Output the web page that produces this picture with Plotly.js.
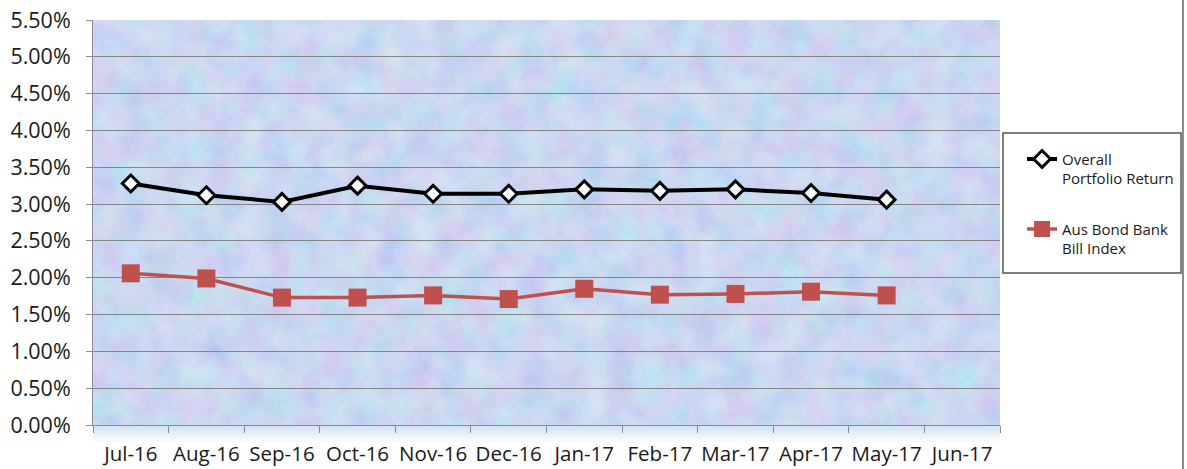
<!DOCTYPE html>
<html>
<head>
<meta charset="utf-8">
<script src="https://cdn.plot.ly/plotly-3.0.1.min.js"></script>
<style>html,body{margin:0;padding:0;background:#fff;}#chart{width:1187px;height:469px;}</style>
</head>
<body>
<div id="chart"></div>
<script>
// ---- data ----
var months = ['Jul-16','Aug-16','Sep-16','Oct-16','Nov-16','Dec-16','Jan-17','Feb-17','Mar-17','Apr-17','May-17','Jun-17'];
var portfolioReturn = [3.28, 3.12, 3.03, 3.25, 3.14, 3.14, 3.20, 3.18, 3.20, 3.15, 3.06];
var bankBillIndex = [2.06, 1.99, 1.73, 1.73, 1.76, 1.71, 1.85, 1.77, 1.78, 1.81, 1.76];
var seriesNames = ['Overall<br>Portfolio Return', 'Aus Bond Bank<br>Bill Index'];
var yTicks = [0, 0.5, 1, 1.5, 2, 2.5, 3, 3.5, 4, 4.5, 5, 5.5];
var yTickText = yTicks.map(function (v) { return v.toFixed(2) + '%'; });

// ---- decorative background texture (deterministic SVG noise) ----
var texSvg = "<svg xmlns='http://www.w3.org/2000/svg' width='907' height='405' viewBox='0 0 907 405'>" +
  "<filter id='n' x='0' y='0' width='100%' height='100%'><feTurbulence type='fractalNoise' baseFrequency='0.035' numOctaves='4' seed='7'/>" +
  "<feColorMatrix type='matrix' values='1.1 0 0 0 0.22  0 0.8 0 0 0.36  0 0 0.3 0 0.72  0 0 0 0 0.40'/></filter>" +
  "<rect width='907' height='405' fill='#b9d0f1'/>" +
  "<rect width='907' height='405' filter='url(#n)'/></svg>";
var gradSvg = "<svg xmlns='http://www.w3.org/2000/svg' width='907' height='20' viewBox='0 0 907 20'>" +
  "<defs><linearGradient id='g' x1='0' y1='0' x2='0' y2='1'><stop offset='0' stop-color='#cfe1f0'/><stop offset='1' stop-color='#ffffff'/></linearGradient></defs>" +
  "<rect width='907' height='20' fill='url(#g)'/></svg>";
function svgUrl(s){ return 'data:image/svg+xml;charset=utf-8,' + encodeURIComponent(s); }

var traces = [
  {
    x: months.slice(0, portfolioReturn.length),
    y: portfolioReturn,
    name: seriesNames[0],
    type: 'scatter', mode: 'lines+markers',
    legendgroup: 'a',
    line: {color: '#000000', width: 4},
    marker: {symbol: 'diamond', size: 13, color: '#ffffff', line: {color: '#000000', width: 3}}
  },
  {
    x: months.slice(0, bankBillIndex.length),
    y: bankBillIndex,
    name: seriesNames[1],
    type: 'scatter', mode: 'lines+markers',
    legendgroup: 'b',
    line: {color: '#c0504d', width: 3.5},
    marker: {symbol: 'square', size: 18, color: '#c0504d'}
  }
];

var font = 'Open Sans, Noto Sans, sans-serif';
var layout = {
  width: 1187, height: 469,
  margin: {l: 93, r: 187, t: 20, b: 44, pad: 0, autoexpand: false},
  paper_bgcolor: '#ffffff',
  plot_bgcolor: '#b9d0f1',
  font: {family: font, color: '#1a1a1a'},
  showlegend: true,
  legend: {
    x: 1.0243, y: 0.697, xanchor: 'left', yanchor: 'top',
    bgcolor: 'rgba(0,0,0,0)', borderwidth: 0,
    font: {family: font, size: 15, color: '#1a1a1a'},
    valign: 'top', traceorder: 'grouped', tracegroupgap: 28
  },
  xaxis: {
    type: 'category',
    categoryorder: 'array', categoryarray: months,
    tickvals: months,
    range: [-0.5, months.length - 0.5],
    tickson: 'boundaries',
    tickangle: 0,
    automargin: false,
    ticks: 'outside', ticklen: 7, tickcolor: '#8c8c8c', tickwidth: 1,
    showline: true, linecolor: '#8c8c8c', linewidth: 1,
    showgrid: false, zeroline: false,
    ticklabelstandoff: 10,
    tickfont: {family: font, size: 20.5, color: '#1a1a1a'},
    fixedrange: true
  },
  yaxis: {
    range: [0, 5.5],
    tickvals: yTicks,
    ticktext: yTickText,
    automargin: false,
    ticks: 'outside', ticklen: 6, tickcolor: '#8c8c8c',
    showline: true, linecolor: '#8c8c8c', linewidth: 1,
    showgrid: true, gridcolor: '#858585', gridwidth: 1,
    zeroline: false,
    ticklabelstandoff: 11,
    tickfont: {family: font, size: 21.5, color: '#1a1a1a'},
    fixedrange: true
  },
  images: [
    {source: svgUrl(texSvg), xref: 'paper', yref: 'paper', x: 0, y: 1, sizex: 1, sizey: 1,
     xanchor: 'left', yanchor: 'top', sizing: 'stretch', layer: 'below'},
    {source: svgUrl(gradSvg), xref: 'paper', yref: 'paper', x: 0, y: 0, sizex: 1, sizey: 0.045,
     xanchor: 'left', yanchor: 'top', sizing: 'stretch', layer: 'below'}
  ],
  shapes: [
    {type: 'rect', xref: 'paper', yref: 'paper', x0: 1.0033, x1: 1.1996, y0: 0.3753, y1: 0.721,
     line: {color: '#555555', width: 1.5}, fillcolor: 'rgba(0,0,0,0)'},
    {type: 'line', xref: 'paper', yref: 'paper', x0: 1.2018, x1: 1.2018, y0: -0.12, y1: 1.06,
     line: {color: '#8a8a8a', width: 2}}
  ]
};

Plotly.newPlot('chart', traces, layout, {displayModeBar: false, staticPlot: true});
</script>
</body>
</html>
